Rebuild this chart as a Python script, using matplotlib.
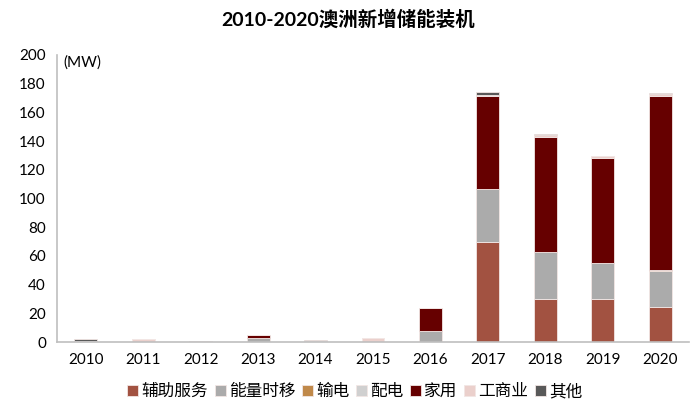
import matplotlib
matplotlib.use("Agg")
import matplotlib.pyplot as plt
import numpy as np

plt.rcParams['font.family'] = ['Lato', 'Noto Sans CJK SC', 'DejaVu Sans']

years = ["2010", "2011", "2012", "2013", "2014", "2015", "2016", "2017", "2018", "2019", "2020"]
series = ["辅助服务", "能量时移", "输电", "配电", "家用", "工商业", "其他"]
colors = ["#A25241", "#ABABAB", "#C0894A", "#D0D0D0", "#660000", "#EBD0CC", "#595959"]

fuzhu   = [0.3, 0.3, 0.0, 0.0, 0.5, 0.0, 0.0, 70.0, 30.0, 30.0, 24.6]
nengliang = [0.0, 0.0, 0.0, 3.0, 0.0, 0.0, 8.0, 36.5, 33.0, 25.0, 25.0]
shudian = [0.0, 0.0, 0.0, 0.0, 0.0, 0.0, 0.0, 0.0, 0.0, 0.0, 0.5]
peidian = [0.0, 0.0, 0.3, 0.0, 0.0, 0.0, 0.0, 0.0, 0.0, 0.0, 0.0]
jiayong = [0.5, 0.0, 0.0, 2.0, 0.0, 0.0, 15.5, 65.0, 80.0, 73.4, 121.5]
gongshang = [0.0, 1.5, 0.4, 0.0, 0.0, 2.5, 0.0, 0.5, 1.5, 1.0, 1.5]
qita = [1.0, 0.0, 0.0, 0.0, 1.2, 0.0, 0.5, 2.5, 0.5, 0.0, 0.5]

data = [fuzhu, nengliang, shudian, peidian, jiayong, gongshang, qita]

fig = plt.figure(figsize=(6.96, 4.09), dpi=100)
ax = fig.add_axes([57/696, 1 - 342/409, 632/696, 287/409])

x = np.arange(len(years))
bottom = np.zeros(len(years))
for name, vals, c in zip(series, data, colors):
    vals = np.array(vals)
    ax.bar(x, vals, 0.4, bottom=bottom, color=c, label=name,
           edgecolor="#F2E6E4", linewidth=0.6)
    bottom += vals

ax.set_xlim(-0.5, len(years) - 0.5)
ax.set_ylim(0, 200)
ax.set_yticks(range(0, 201, 20))
ax.set_xticks(x)
ax.set_xticklabels(years)
ax.tick_params(length=0, labelsize=11, colors="black", pad=8)
for s in ["top", "right"]:
    ax.spines[s].set_visible(False)
for s in ["left", "bottom"]:
    ax.spines[s].set_color("#BFBFBF")
    ax.spines[s].set_linewidth(1.2)

# unit label just right of the y axis
ax.text(6/632, (342-63)/287, "(MW)", transform=ax.transAxes, fontsize=11,
        va="center", ha="left")

fig.text(0.5, 1 - 19/409, "2010-2020澳洲新增储能装机", ha="center", va="center",
         fontsize=14, fontweight="bold")

fig.legend(loc="center", bbox_to_anchor=(0.51, 1 - 391/409), ncol=7, frameon=False,
           fontsize=12, handlelength=0.65, handleheight=0.65, handletextpad=0.2,
           columnspacing=0.4)

fig.savefig("out.png", dpi=100)
